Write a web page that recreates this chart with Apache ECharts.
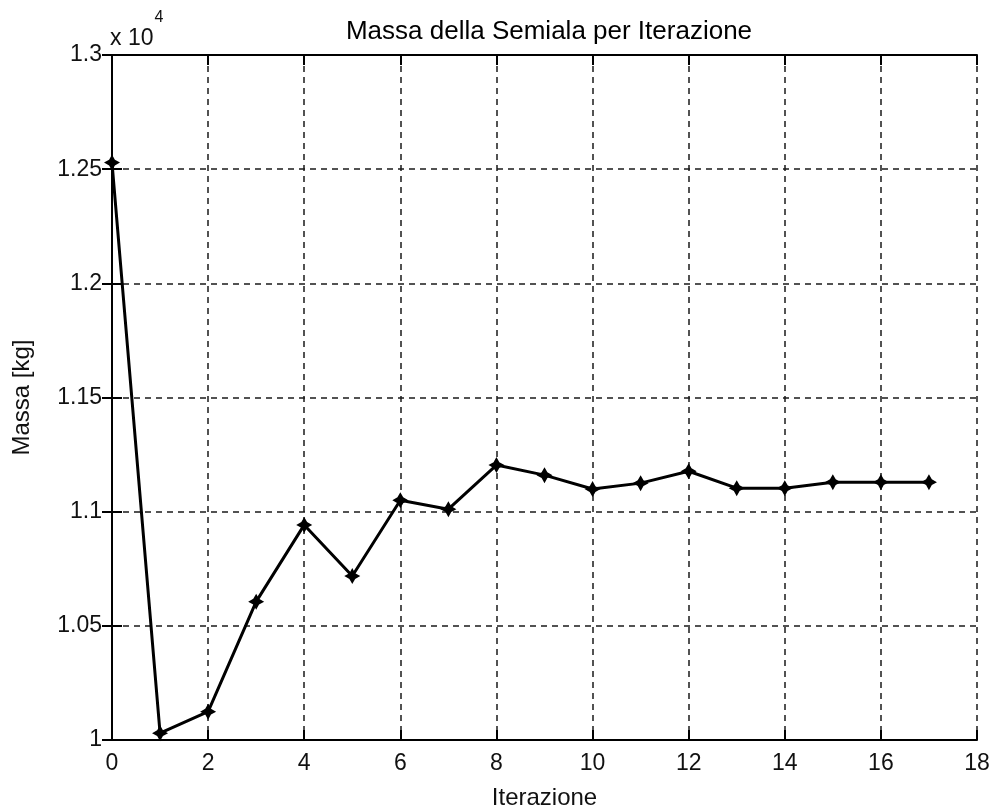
<!DOCTYPE html>
<html>
<head>
<meta charset="utf-8">
<script src="https://cdn.jsdelivr.net/npm/echarts@6/dist/echarts.min.js"></script>
<style>
html,body{margin:0;padding:0;background:#fff;}
#chart{width:996px;height:807px;}
</style>
</head>
<body>
<div id="chart"></div>
<script>
var iterations = [0,1,2,3,4,5,6,7,8,9,10,11,12,13,14,15,16,17];
var masses = [12529,10030,10124,10606,10942,10718,11050,11011,11204,11160,11099,11125,11177,11103,11103,11129,11129,11129];
var titleText = 'Massa della Semiala per Iterazione';
var xLabel = 'Iterazione';
var yLabel = 'Massa [kg]';

var FONT = '"Liberation Sans", Arial, sans-serif';
var chart = echarts.init(document.getElementById('chart'), null, {renderer:'canvas'});
var pts = iterations.map(function(x,i){ return [x, masses[i]]; });
var star = 'path://M0,-10 L3.6,-3.6 L10,0 L3.6,3.6 L0,10 L-3.6,3.6 L-10,0 L-3.6,-3.6 Z';

var gridLine = {show:true, lineStyle:{color:'#1a1a1a', width:1.5, type:[6,5]}};
var axisLineS = {show:true, lineStyle:{color:'#000', width:2}};
var tickS = {show:true, inside:true, length:10, lineStyle:{color:'#000', width:2}};
var labelS = {color:'#111', fontFamily:FONT, fontSize:23};

chart.setOption({
  animation:false,
  backgroundColor:'#fff',
  title:{text:titleText, left:544, textAlign:'center', top:14,
    textStyle:{color:'#000', fontFamily:FONT, fontSize:26, fontWeight:'normal'}},
  grid:{left:112, right:19, top:55, bottom:67, containLabel:false, outerBoundsMode:'none'},
  graphic:[{
    type:'text', left:110, top:10,
    style:{
      text:'{a|x 10}{b|4}',
      rich:{
        a:{fontFamily:FONT, fontSize:23, fill:'#111', verticalAlign:'bottom', lineHeight:40},
        b:{fontFamily:FONT, fontSize:16, fill:'#111', verticalAlign:'top', lineHeight:40, padding:[0,0,14,1]}
      }
    }
  }],
  xAxis:[{
    type:'value', min:0, max:18, interval:2,
    name:xLabel, nameLocation:'middle', nameGap:46,
    nameTextStyle:{color:'#111', fontFamily:FONT, fontSize:24},
    axisLine:axisLineS, axisTick:tickS,
    axisLabel:Object.assign({margin:12}, labelS),
    splitLine:gridLine
  },{
    type:'value', min:0, max:18, interval:2, position:'top',
    axisLine:axisLineS, axisTick:tickS, axisLabel:{show:false}, splitLine:{show:false}
  }],
  yAxis:[{
    type:'value', min:10000, max:13000, interval:500,
    name:yLabel, nameLocation:'middle', nameGap:78, nameRotate:90,
    nameTextStyle:{color:'#111', fontFamily:FONT, fontSize:24},
    axisLine:axisLineS, axisTick:tickS,
    axisLabel:Object.assign({margin:10, formatter:function(v){ return String(Math.round(v/10000*100)/100); }}, labelS),
    splitLine:gridLine
  },{
    type:'value', min:10000, max:13000, interval:500, position:'right',
    axisLine:axisLineS, axisTick:tickS, axisLabel:{show:false}, splitLine:{show:false}
  }],
  series:[{
    type:'line', data:pts,
    lineStyle:{color:'#000', width:3},
    itemStyle:{color:'#000'},
    symbol:star, symbolSize:16, showSymbol:true,
    z:5
  }]
});
</script>
</body>
</html>
